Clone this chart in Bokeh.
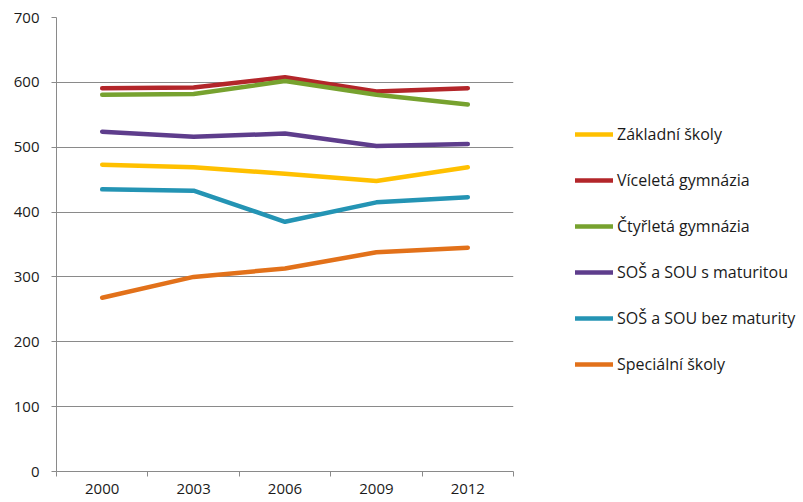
from bokeh.plotting import figure
from bokeh.models import FixedTicker, Legend, LegendItem, Range1d
from bokeh.embed import file_html
from bokeh.resources import INLINE

years = ["2000", "2003", "2006", "2009", "2012"]
zakladni = [473, 469, 459, 448, 469]
vicelete = [591, 592, 608, 586, 591]
ctyrlete = [581, 582, 602, 581, 566]
sos_mat = [524, 516, 521, 502, 505]
sos_bez = [435, 433, 385, 415, 423]
specialni = [268, 300, 313, 338, 345]

series_names = ["Základní školy", "Víceletá gymnázia", "Čtyřletá gymnázia",
                "SOŠ a SOU s maturitou", "SOŠ a SOU bez maturity", "Speciální školy"]
series_values = [zakladni, vicelete, ctyrlete, sos_mat, sos_bez, specialni]
colors = ["#FFC000", "#B3262A", "#77A22F", "#5E3D8C", "#2494B4", "#E2711A"]

FONT = "Open Sans"
GRID = "#8A8A8A"

p = figure(width=803, height=502, output_backend="svg", toolbar_location=None,
           x_range=Range1d(0, len(years)), y_range=Range1d(0, 700),
           frame_width=457, frame_height=454,
           min_border_left=56, min_border_right=290, min_border_top=17, min_border_bottom=31)
p.outline_line_color = None
p.background_fill_color = "white"
p.border_fill_color = "white"

xs = [i + 0.5 for i in range(len(years))]
items = []
for name, vals, c in zip(series_names, series_values, colors):
    r = p.line(xs, vals, line_color=c, line_width=4.5, line_cap="round", line_join="round")
    items.append(LegendItem(label=name, renderers=[r]))

# y axis
p.yaxis.ticker = FixedTicker(ticks=list(range(0, 701, 100)))
p.yaxis.axis_line_color = GRID
p.yaxis.major_tick_line_color = GRID
p.yaxis.major_tick_out = 5
p.yaxis.major_tick_in = 0
p.yaxis.minor_tick_line_color = None
p.yaxis.major_label_standoff = 12
p.yaxis.major_label_text_font = FONT
p.yaxis.major_label_text_font_size = "15px"
p.yaxis.major_label_text_color = "#1a1a1a"

# x axis
p.xaxis.ticker = FixedTicker(ticks=xs, minor_ticks=list(range(len(years) + 1)))
p.xaxis.major_label_overrides = {x: y for x, y in zip(xs, years)}
p.xaxis.axis_line_color = GRID
p.xaxis.major_tick_line_color = None
p.xaxis.minor_tick_line_color = GRID
p.xaxis.minor_tick_out = 5
p.xaxis.minor_tick_in = 0
p.xaxis.major_label_standoff = 6
p.xaxis.major_label_text_font = FONT
p.xaxis.major_label_text_font_size = "15px"
p.xaxis.major_label_text_color = "#1a1a1a"

p.xgrid.visible = False
p.ygrid.grid_line_color = GRID
p.ygrid.grid_line_width = 1

legend = Legend(items=items, location=(62, 96), padding=0, margin=0,
                glyph_width=38, glyph_height=20, label_height=20, spacing=24,
                label_standoff=4, label_text_font=FONT, label_text_font_size="16px",
                label_text_color="#1a1a1a", border_line_color=None,
                background_fill_alpha=0)
p.add_layout(legend, "right")

open("out.html", "w").write(file_html(p, INLINE))
